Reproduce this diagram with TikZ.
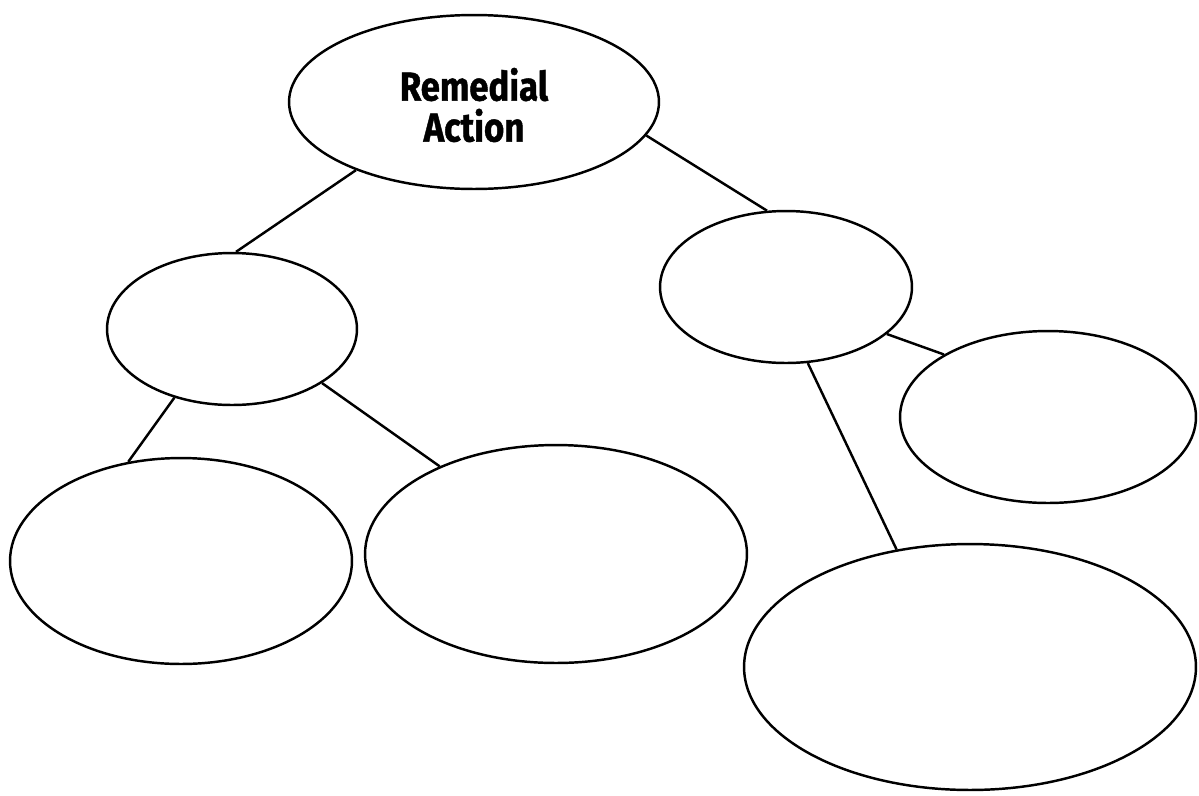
\documentclass[tikz,border=0pt]{standalone}
\usepackage{fontspec}
\setmainfont{Fira Sans}[BoldFeatures={FakeBold=1.2}]
\usetikzlibrary{shapes.geometric}
\tikzset{
  bubble/.style={ellipse, draw=black, line width=1.4pt, inner sep=0pt, fill=white},
  link/.style={draw=black, line width=1.4pt},
  title/.style={font=\bfseries\fontsize{23}{23.3}\selectfont, align=center}
}
\begin{document}
\begin{tikzpicture}[x=0.02cm, y=-0.02cm]
\useasboundingbox (0,0) rectangle (1199,795);
\fill[white] (0,0) rectangle (1199,795);
\node[bubble, minimum width=7.4cm, minimum height=3.48cm] (top) at (474,102) {};
\node[title] (ttl) at (474,105) {\scalebox{0.86}[1]{Remedial}\\\scalebox{0.86}[1]{Action}};
\node[bubble, minimum width=5.0cm, minimum height=3.04cm] (lm) at (232,329) {};
\node[bubble, minimum width=5.04cm, minimum height=3.04cm] (rm) at (786,287) {};
\node[bubble, minimum width=5.92cm, minimum height=3.44cm] (fr) at (1048,417) {};
\node[bubble, minimum width=6.84cm, minimum height=4.12cm] (bl) at (181,561) {};
\node[bubble, minimum width=7.64cm, minimum height=4.36cm] (bm) at (556,554) {};
\node[bubble, minimum width=9.04cm, minimum height=4.92cm] (br) at (970,667) {};
\draw[link] (top.210.8) -- (lm.87.7);
\draw[link] (top.349.9) -- (rm.104.9);
\draw[link] (lm.230.4) -- (bl.118.9);
\draw[link] (lm.329) -- (bm.143);
\draw[link] (rm.335.3) -- (fr.149.7);
\draw[link] (rm.286.1) -- (br.122.5);
\end{tikzpicture}
\end{document}
